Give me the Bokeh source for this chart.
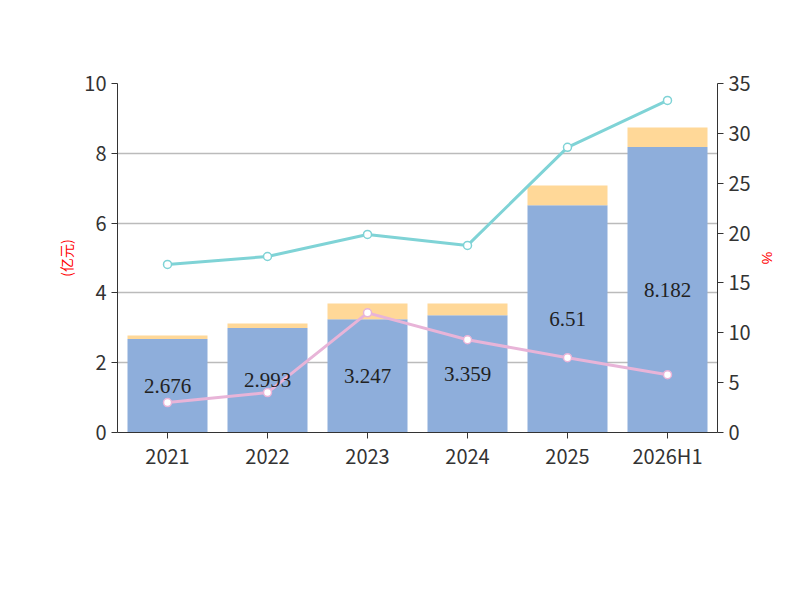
from bokeh.plotting import figure
from bokeh.models import ColumnDataSource, Range1d, LinearAxis, Legend, LegendItem, LabelSet, Label
from bokeh.embed import file_html
from bokeh.resources import INLINE

years = ["2021", "2022", "2023", "2024", "2025", "2026H1"]
book = [2.676, 2.993, 3.247, 3.359, 6.51, 8.182]
reserve = [0.10, 0.13, 0.45, 0.34, 0.57, 0.56]
ratio_net = [16.85, 17.65, 19.86, 18.76, 28.6, 33.3]
ratio_prov = [3.0, 4.0, 12.0, 9.3, 7.5, 5.8]

FONT = "Noto Sans CJK SC"
src = ColumnDataSource(dict(x=years, book=book, reserve=reserve, net=ratio_net, prov=ratio_prov,
                            lbl=[str(v) for v in book], mid=[v / 2 for v in book]))

p = figure(x_range=years, y_range=Range1d(0, 10), width=792, height=592,
           output_backend="svg", toolbar_location=None,
           min_border_left=117, min_border_right=75, min_border_top=83, min_border_bottom=160)
p.extra_y_ranges = {"r": Range1d(0, 35)}
p.outline_line_color = None
p.xgrid.grid_line_color = None
p.ygrid.grid_line_color = "#bbbbbb"
p.ygrid.grid_line_width = 1.5

bars = p.vbar_stack(["book", "reserve"], x="x", width=0.8, source=src,
                    color=["#8EAEDB", "#FFD898"], line_color=None)
l1 = p.line("x", "net", source=src, y_range_name="r", color="#7FD3D6", line_width=3)
c1 = p.scatter("x", "net", source=src, y_range_name="r", size=8, fill_color="white",
               line_color="#7FD3D6", line_width=1.5)
l2 = p.line("x", "prov", source=src, y_range_name="r", color="#E8B4D8", line_width=3)
c2 = p.scatter("x", "prov", source=src, y_range_name="r", size=8, fill_color="white",
               line_color="#E8B4D8", line_width=1.5)

p.add_layout(LabelSet(x="x", y="mid", text="lbl", source=src, text_align="center",
                      text_baseline="middle", text_font=FONT, text_font_size="21px",
                      text_color="#222222"))

for ax in (p.xaxis[0], p.yaxis[0]):
    ax.major_label_text_font = FONT
    ax.major_label_text_font_size = "20px"
    ax.major_label_text_color = "#333333"
    ax.axis_line_color = "#333333"
    ax.major_tick_line_color = "#333333"
    ax.minor_tick_line_color = None
    ax.major_tick_out = 6
    ax.major_tick_in = 0
p.xaxis.major_label_standoff = 2
p.yaxis[0].ticker = [0, 2, 4, 6, 8, 10]
p.yaxis[0].axis_label = "(亿元)"
p.yaxis[0].axis_label_text_color = "red"
p.yaxis[0].axis_label_text_font = FONT
p.yaxis[0].axis_label_text_font_size = "14px"
p.yaxis[0].axis_label_text_font_style = "normal"

ra = LinearAxis(y_range_name="r", ticker=[0, 5, 10, 15, 20, 25, 30, 35], axis_label="%")
ra.major_label_text_font = FONT
ra.major_label_text_font_size = "20px"
ra.major_label_text_color = "#333333"
ra.axis_line_color = "#333333"
ra.major_tick_line_color = "#333333"
ra.minor_tick_line_color = None
ra.major_tick_out = 6
ra.major_tick_in = 0
ra.axis_label_text_color = "red"
ra.axis_label_text_font_size = "14px"
ra.axis_label_text_font_style = "normal"
p.add_layout(ra, "right")

def mk_legend(items, loc):
    return Legend(items=items, orientation="horizontal", border_line_color=None,
                  label_text_font=FONT, label_text_font_size="21px", label_text_color="#333333",
                  glyph_width=48, glyph_height=26, spacing=14, padding=0, margin=0,
                  location=loc, background_fill_alpha=0)

lg1 = mk_legend([LegendItem(label="存货账面价值", renderers=[bars[0]]),
                 LegendItem(label="存货跌价准备", renderers=[bars[1]]),
                 LegendItem(label="存货占净资产比例", renderers=[l1, c1])], (-75, -66))
lg2 = mk_legend([LegendItem(label="存货计提比例", renderers=[l2, c2])], (-75, -124))
p.add_layout(lg1)
p.add_layout(lg2)

p.add_layout(Label(x=283, y=367, x_units="screen", y_units="screen", text="历年存货变动情况",
                   text_align="center", text_baseline="middle", text_font=FONT,
                   text_font_size="24px", text_font_style="bold", text_color="#333333"))
p.add_layout(Label(x=283, y=-150, x_units="screen", y_units="screen", text="制图数据来自恒生聚源数据库",
                   text_align="center", text_baseline="middle", text_font=FONT,
                   text_font_size="15px", text_color="#CC9922"))

open("out.html", "w").write(file_html(p, INLINE))
